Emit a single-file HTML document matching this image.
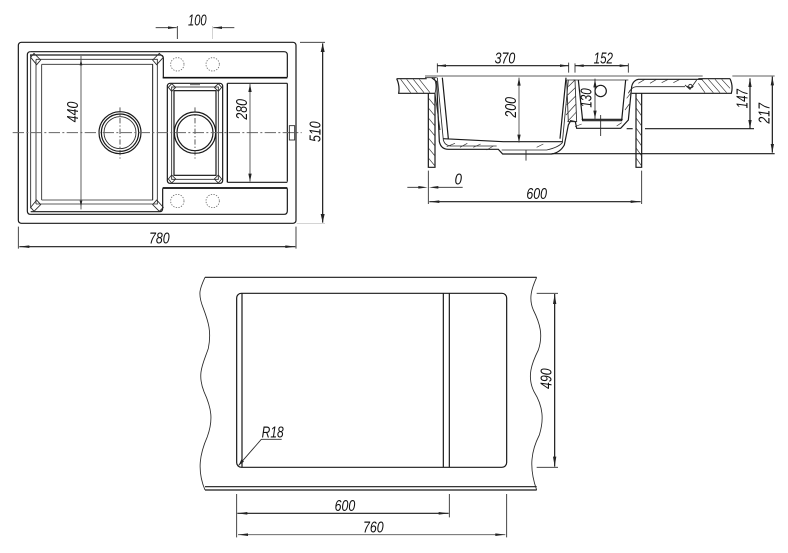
<!DOCTYPE html>
<html><head><meta charset="utf-8"><style>
html,body{margin:0;padding:0;background:#fff}
svg{display:block}
text{font-family:"Liberation Sans",sans-serif;font-style:italic;fill:#111;font-size:47px;text-anchor:middle}
.m{fill:none;stroke:#1a1a1a;stroke-width:3.6}
.t{fill:none;stroke:#2a2a2a;stroke-width:2.6}
.g{fill:none;stroke:#555;stroke-width:2.8}
.l{fill:none;stroke:#bbb;stroke-width:2}
.h{fill:none;stroke:#333;stroke-width:2}
.a{fill:#222;stroke:none}
.k{fill:none;stroke:#111;stroke-width:6}
</style></head><body>
<svg width="788" height="553" viewBox="0 0 788 553" xmlns="http://www.w3.org/2000/svg">
<rect width="788" height="553" fill="#fff"/>
<!-- PLAN -->
<g transform="scale(.33333)">
<rect x="55" y="127" width="833" height="543" rx="9" class="m"/>
<path class="m" d="M92 155H852Q862 155 862 165V232"/>
<path class="m" d="M862 250V545"/>
<path class="m" d="M862 565V633Q862 643 852 643H92Q82 643 82 633V165Q82 155 92 155"/>
<path class="m" d="M90 165H480Q490 165 490 175V232"/>
<path class="m" d="M488 565V625Q488 635 478 635H92"/>
<path class="t" d="M92 165V625M108 178V612M125 193V600M108 178H472V612H108M125 193H458V600H125"/>
<path class="t" d="M458 193V600"/>
<path class="t" d="M92 172L102 160L122 180L110 194ZM490 172L478 160L458 180L470 194ZM92 622L102 634L122 614L110 600ZM490 622L478 634L458 614L470 600Z" fill="#ddd"/>
<path class="k" d="M488 233H862M488 564H862" style="stroke-width:5"/>
<rect x="502" y="250" width="166" height="300" rx="8" class="m"/>
<rect x="515" y="261" width="140" height="277" class="t"/>
<rect x="522" y="272" width="126" height="254" class="m"/>
<path class="t" d="M505 262L515 251L527 262L515 274ZM665 262L655 251L643 262L655 274ZM505 537L515 549L527 537L515 525ZM665 537L655 549L643 537L655 525Z" fill="#ddd"/>
<path d="M570 254H600" stroke="#666" stroke-width="3" fill="none"/>
<circle cx="360" cy="398" r="63" class="m"/><circle cx="360" cy="398" r="56" class="m"/><circle cx="360" cy="398" r="48" class="t"/>
<circle cx="585" cy="398" r="62" class="m"/><circle cx="585" cy="398" r="54" class="m"/>
<path d="M360 322V478M585 322V478" stroke="#333" stroke-width="2.4" stroke-dasharray="16 6 4 6" fill="none"/>
<path d="M38 398H905" stroke="#666" stroke-width="3" stroke-dasharray="34 7 6 7" fill="none"/>
<path class="k" d="M682 250V547" style="stroke-width:4"/>
<path class="m" d="M682 250H862M682 547H862"/>
<rect x="868" y="377" width="16" height="43" class="t"/>
<g stroke="#666" stroke-width="2.4" fill="none" stroke-dasharray="4 4">
<circle cx="532" cy="193" r="20"/><circle cx="638" cy="193" r="20"/><circle cx="532" cy="603" r="20"/><circle cx="638" cy="603" r="20"/>
</g>
<path class="g" d="M243 168V628"/><path class="a" d="M243 178l-4 18h8zM243 620l-4 -18h8z"/>
<path class="g" d="M750 252V545"/><path class="a" d="M750 252l-5 24h10zM750 545l-5 -24h10z"/>
<text transform="translate(234,336) rotate(-90)" textLength="62" lengthAdjust="spacingAndGlyphs">440</text>
<text transform="translate(741,328) rotate(-90)" textLength="62" lengthAdjust="spacingAndGlyphs">280</text>
<!-- dims -->
<path class="t" d="M467 83H530M640 83H703M532 78V117"/><path class="l" d="M638 78V117"/>
<path class="a" d="M530 83l-26 -4v8zM640 83l26 -4v8z"/>
<text x="592" y="77" textLength="56" lengthAdjust="spacingAndGlyphs">100</text>
<path class="t" d="M900 127H975"/><path class="l" d="M890 670H975"/><path class="m" d="M968 130V668"/>
<path class="a" d="M968 130l-6 26h12zM968 668l-6 -26h12z"/>
<text transform="translate(961,395) rotate(-90)" textLength="62" lengthAdjust="spacingAndGlyphs">510</text>
<path class="t" d="M55 680V746M888 680V746"/><path class="m" d="M58 740H886"/>
<path class="a" d="M58 740l30 -4v8zM886 740l-30 -4v8z"/>
<text x="478" y="731" textLength="62" lengthAdjust="spacingAndGlyphs">780</text>
</g>
<!-- SECTION -->
<g transform="translate(380,30) scale(.33333)">
<path class="t" d="M135 138H968M135 143H170"/>
<path class="m" d="M50 146H140M50 146Q60 168 56 190H165M1050 146Q1060 168 1054 190H755M955 146H1050"/>
<path class="h" d="M62 148L92 188M80 148L112 188M100 148L132 188M118 148L150 188M965 148L1000 188M985 148L1020 188M1005 148L1040 188M1025 148L1050 175M955 160L975 188"/>
<path class="m" d="M145 190V412H165V190M768 190V412H785V190"/>
<path class="h" d="M146 205L165 228M146 235L165 258M146 265L165 288M146 295L165 318M146 325L165 348M146 355L165 378M146 385L165 408M769 205L785 228M769 235L785 258M769 265L785 288M769 295L785 318M769 325L785 348M769 355L785 378M769 385L785 408"/>
<path class="m" d="M155 143L170 155L178 335Q183 358 205 358H355L368 372H515Q540 368 553 345L565 285L572 272L586 275L590 295H722L745 270L755 170Q758 152 775 148H968"/>
<path class="t" d="M172 143L190 330Q195 348 215 348H350M365 360H500Q535 352 547 338L565 150M580 150H745M745 190Q755 170 770 170H915"/>
<path class="m" d="M187 143L205 326M558 143L540 326M190 326L370 335H548"/>
<path class="t" d="M165 190L180 300M162 143Q172 165 165 190"/>
<path class="m" d="M595 150L608 272H725L737 150"/>
<path class="k" d="M605 268H728" style="stroke-width:3.5"/>
<path class="t" d="M560 150H585L590 275H565Z"/>
<path class="h" d="M565 170L585 150M563 195L587 172M560 225L587 198M558 255L588 222M562 275L590 245M740 205L752 190M735 240L748 222M200 350L225 340M240 352L262 340M280 352L302 342M320 360L340 348M470 352L490 342M775 160L795 148M810 160L830 148M845 158L865 148M880 158L900 148M585 290L605 282M710 288L725 278"/>
<circle cx="662" cy="183" r="17" class="m"/>
<path class="t" d="M915 165L930 178L950 150M922 168A10 10 0 0 0 940 168"/>
<circle cx="931" cy="168" r="5" class="t"/>
<path class="t" d="M662 255V318M438 360V392"/>
<!-- dims -->
<path class="m" d="M172 107H566M585 107H745"/>
<path class="t" d="M172 100V128M566 98V128M585 100V128M745 100V128"/>
<path class="a" d="M172 107l26 -4v8zM566 107l-26 -4v8zM585 107l26 -4v8zM745 107l-26 -4v8z"/>
<text x="375" y="100" textLength="62" lengthAdjust="spacingAndGlyphs">370</text>
<text x="670" y="100" textLength="58" lengthAdjust="spacingAndGlyphs">152</text>
<path class="g" d="M417 143V338"/><path class="a" d="M417 143l-5 24h10zM417 338l-5 -24h10z"/>
<text transform="translate(408,232) rotate(-90)" textLength="62" lengthAdjust="spacingAndGlyphs">200</text>
<path class="t" d="M645 146V268"/><path class="a" d="M645 148l-5 24h10zM645 266l-5 -24h10z"/>
<text transform="translate(635,204) rotate(-90)" textLength="58" lengthAdjust="spacingAndGlyphs">130</text>
<path class="t" d="M1057 138H1184"/>
<path class="m" d="M795 296H1122M515 371H1184M740 296H758"/>
<path class="m" d="M1110 145V296M1177 140V368"/>
<path class="a" d="M1110 145l-5 26h10zM1110 296l-5 -26h10zM1177 140l-5 26h10zM1177 368l-5 -26h10z"/>
<text transform="translate(1103,206) rotate(-90)" textLength="58" lengthAdjust="spacingAndGlyphs">147</text>
<text transform="translate(1168,250) rotate(-90)" textLength="62" lengthAdjust="spacingAndGlyphs">217</text>
<path class="t" d="M145 422V522M785 422V522M82 472H118M172 472H248"/>
<path class="a" d="M143 472l-28 -4v8zM147 472l28 -4v8z"/>
<text x="235" y="463" textLength="22" lengthAdjust="spacingAndGlyphs">0</text>
<path class="m" d="M148 515H782"/><path class="a" d="M148 515l30 -4v8zM782 515l-30 -4v8z"/>
<text x="470" y="507" textLength="62" lengthAdjust="spacingAndGlyphs">600</text>
</g>
<!-- CUTOUT -->
<g transform="translate(180,260) scale(.33333)">
<path class="m" d="M75 52H1070M75 680H1070M75 690H1070"/>
<path class="t" d="M75 52C60 85 52 100 70 145C85 185 95 215 85 265C70 310 50 340 72 395C95 445 100 480 82 530C60 580 50 630 75 690"/>
<path class="t" d="M1070 52C1055 85 1045 115 1060 150C1080 190 1090 225 1075 270C1055 310 1040 350 1062 395C1090 440 1092 480 1078 525C1055 570 1045 620 1070 690"/>
<rect x="170" y="100" width="810" height="522" rx="14" class="m"/>
<path class="m" d="M186 100V622M790 100V622M808 100V622"/>
<path class="t" d="M176 616L244 538H305"/><path class="a" d="M176 616l8 -18l8 7z"/>
<text x="278" y="532" textLength="66" lengthAdjust="spacingAndGlyphs">R18</text>
<path class="t" d="M1070 100H1134M1070 622H1134"/><path class="m" d="M1124 102V620"/>
<path class="a" d="M1124 102l-5 30h10zM1124 620l-5 -30h10z"/>
<text transform="translate(1114,356) rotate(-90)" textLength="62" lengthAdjust="spacingAndGlyphs">490</text>
<path class="t" d="M170 702V832M808 702V772M980 702V832"/>
<path class="m" d="M172 760H806"/><path class="a" d="M172 760l30 -4v8zM806 760l-30 -4v8z"/>
<text x="495" y="753" textLength="62" lengthAdjust="spacingAndGlyphs">600</text>
<path class="g" d="M174 824H976"/><path class="a" d="M174 824l30 -4v8zM976 824l-30 -4v8z"/>
<text x="580" y="817" textLength="62" lengthAdjust="spacingAndGlyphs">760</text>
</g>
</svg>
</body></html>
